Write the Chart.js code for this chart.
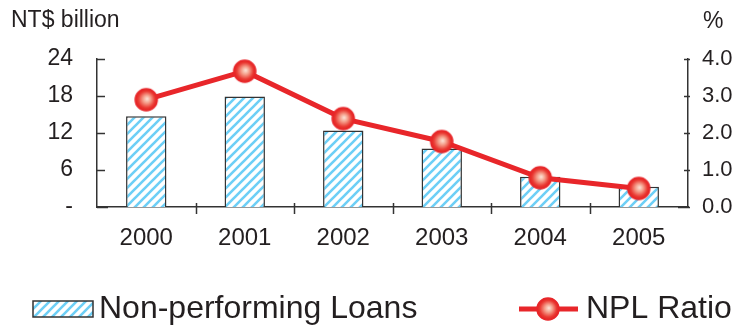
<!DOCTYPE html>
<html>
<head>
<meta charset="utf-8">
<script src="https://cdn.jsdelivr.net/npm/chart.js@4"></script>
<style>
  html, body { margin: 0; padding: 0; background: #fff; }
  #wrap { width: 740px; height: 329px; position: relative; }
</style>
</head>
<body>
<div id="wrap"><canvas id="nplChart"></canvas></div>
<script>
// ---- Data ----
const years = ['2000', '2001', '2002', '2003', '2004', '2005'];
const nplAmount = [14.7, 17.9, 12.4, 9.5, 4.9, 3.3];   // NT$ billion
const nplRatio = [2.9, 3.67, 2.39, 1.77, 0.79, 0.5];    // %
const leftTicks = [0, 6, 12, 18, 24];
const rightTicks = [0, 1, 2, 3, 4];

const FONT = "'Liberation Sans', Arial, Helvetica, sans-serif";
const TEXT = '#231f20';
const AXIS = '#333333';
const RED = '#e8262a';
const STRIPE = '#6dcff6';

// diagonal hatch for the bars
function makeHatch() {
  const s = 9;
  const c = document.createElement('canvas');
  c.width = s; c.height = s;
  const g = c.getContext('2d');
  g.fillStyle = '#fff';
  g.fillRect(0, 0, s, s);
  g.strokeStyle = STRIPE;
  g.lineWidth = 2.6;
  g.beginPath();
  g.moveTo(-2, s + 2); g.lineTo(s + 2, -2);
  g.moveTo(-2, 2); g.lineTo(2, -2);
  g.moveTo(s - 2, s + 2); g.lineTo(s + 2, s - 2);
  g.stroke();
  return g.createPattern(c, 'repeat');
}

// shiny red ball marker
function makeMarker(r) {
  const size = r * 2 + 4;
  const c = document.createElement('canvas');
  c.width = size; c.height = size;
  const g = c.getContext('2d');
  const m = size / 2;
  const grad = g.createRadialGradient(m + 1, m - 1, 0, m, m, r);
  grad.addColorStop(0, '#fde6da');
  grad.addColorStop(0.35, '#f5a08c');
  grad.addColorStop(0.75, '#ea3b34');
  grad.addColorStop(1, '#e3201f');
  g.beginPath();
  g.arc(m, m, r, 0, Math.PI * 2);
  g.fillStyle = grad;
  g.fill();
  g.lineWidth = 1.5;
  g.strokeStyle = RED;
  g.stroke();
  return c;
}

const hatch = makeHatch();
const marker = makeMarker(11);

// ---- Tick marks, titles and legend ----
const decorPlugin = {
  id: 'decorPlugin',
  afterDraw(chart) {
    const { ctx, chartArea, scales: { x, y, y1 } } = chart;
    ctx.save();
    ctx.strokeStyle = AXIS;
    ctx.lineWidth = 1.5;

    // left ticks point inward
    leftTicks.forEach(v => {
      const py = Math.round(y.getPixelForValue(v)) + 0.5;
      ctx.beginPath();
      ctx.moveTo(chartArea.left, py);
      ctx.lineTo(chartArea.left + (v === 0 ? 11 : 8), py);
      ctx.stroke();
    });
    // right ticks cross the axis
    rightTicks.forEach(v => {
      const py = Math.round(y1.getPixelForValue(v)) + 0.5;
      ctx.beginPath();
      ctx.moveTo(chartArea.right - (v === 0 ? 10 : 4), py);
      ctx.lineTo(chartArea.right + 2, py);
      ctx.stroke();
    });
    // x ticks between categories
    for (let i = 0; i < years.length - 1; i++) {
      const px = Math.round((x.getPixelForValue(i) + x.getPixelForValue(i + 1)) / 2) + 0.5;
      ctx.beginPath();
      ctx.moveTo(px, chartArea.bottom - 4);
      ctx.lineTo(px, chartArea.bottom + 7);
      ctx.stroke();
    }

    // unit titles
    ctx.fillStyle = TEXT;
    ctx.textBaseline = 'middle';
    ctx.font = `23px ${FONT}`;
    ctx.textAlign = 'left';
    ctx.fillText('NT$ billion', 11, 21);
    ctx.fillText('%', 703, 22);

    // legend
    const ly = 309;
    ctx.fillStyle = hatch;
    ctx.fillRect(33, ly - 8, 60, 16);
    ctx.strokeStyle = AXIS;
    ctx.lineWidth = 1.5;
    ctx.strokeRect(33, ly - 8, 60, 16);
    ctx.fillStyle = TEXT;
    ctx.font = `32px ${FONT}`;
    ctx.fillText('Non-performing Loans', 99, ly);

    ctx.strokeStyle = RED;
    ctx.lineWidth = 5;
    ctx.beginPath();
    ctx.moveTo(519, ly);
    ctx.lineTo(578, ly);
    ctx.stroke();
    ctx.drawImage(marker, 548 - marker.width / 2, ly - marker.height / 2);
    ctx.fillStyle = TEXT;
    ctx.fillText('NPL Ratio', 586, ly);

    ctx.restore();
  }
};

// ---- Chart ----
const ctx = document.getElementById('nplChart').getContext('2d');
new Chart(ctx, {
  data: {
    labels: years,
    datasets: [
      {
        type: 'line',
        label: 'NPL Ratio',
        data: nplRatio,
        yAxisID: 'y1',
        borderColor: RED,
        borderWidth: 5,
        pointStyle: marker,
        pointRadius: 11,
        tension: 0,
        order: 0
      },
      {
        type: 'bar',
        label: 'Non-performing Loans',
        data: nplAmount,
        yAxisID: 'y',
        backgroundColor: hatch,
        borderColor: AXIS,
        borderWidth: 1.5,
        barPercentage: 0.41,
        categoryPercentage: 1,
        order: 1
      }
    ]
  },
  plugins: [decorPlugin],
  options: {
    responsive: true,
    maintainAspectRatio: false,
    animation: false,
    layout: { padding: { top: 59, bottom: 0, left: 0, right: 0 } },
    plugins: {
      legend: { display: false },
      tooltip: { enabled: false }
    },
    scales: {
      x: {
        offset: true,
        grid: { display: false, drawTicks: false },
        border: { display: true, color: AXIS, width: 1.5 },
        ticks: { color: TEXT, font: { family: FONT, size: 24 }, padding: 17 },
        afterFit(scale) { scale.height = 122; }
      },
      y: {
        position: 'left',
        min: 0,
        max: 24,
        grid: { display: false, drawTicks: false },
        border: { display: true, color: AXIS, width: 1.5 },
        afterBuildTicks(scale) { scale.ticks = leftTicks.map(v => ({ value: v })); },
        ticks: {
          color: TEXT,
          font: { family: FONT, size: 23 },
          padding: 24,
          callback: v => (v === 0 ? '-' : v)
        },
        afterFit(scale) { scale.width = 97; }
      },
      y1: {
        position: 'right',
        min: 0,
        max: 4,
        grid: { display: false, drawTicks: false },
        border: { display: true, color: AXIS, width: 1.5 },
        afterBuildTicks(scale) { scale.ticks = rightTicks.map(v => ({ value: v })); },
        ticks: {
          color: TEXT,
          font: { family: FONT, size: 22 },
          padding: 14,
          callback: v => Number(v).toFixed(1)
        },
        afterFit(scale) { scale.width = 52; }
      }
    }
  }
});
</script>
</body>
</html>
